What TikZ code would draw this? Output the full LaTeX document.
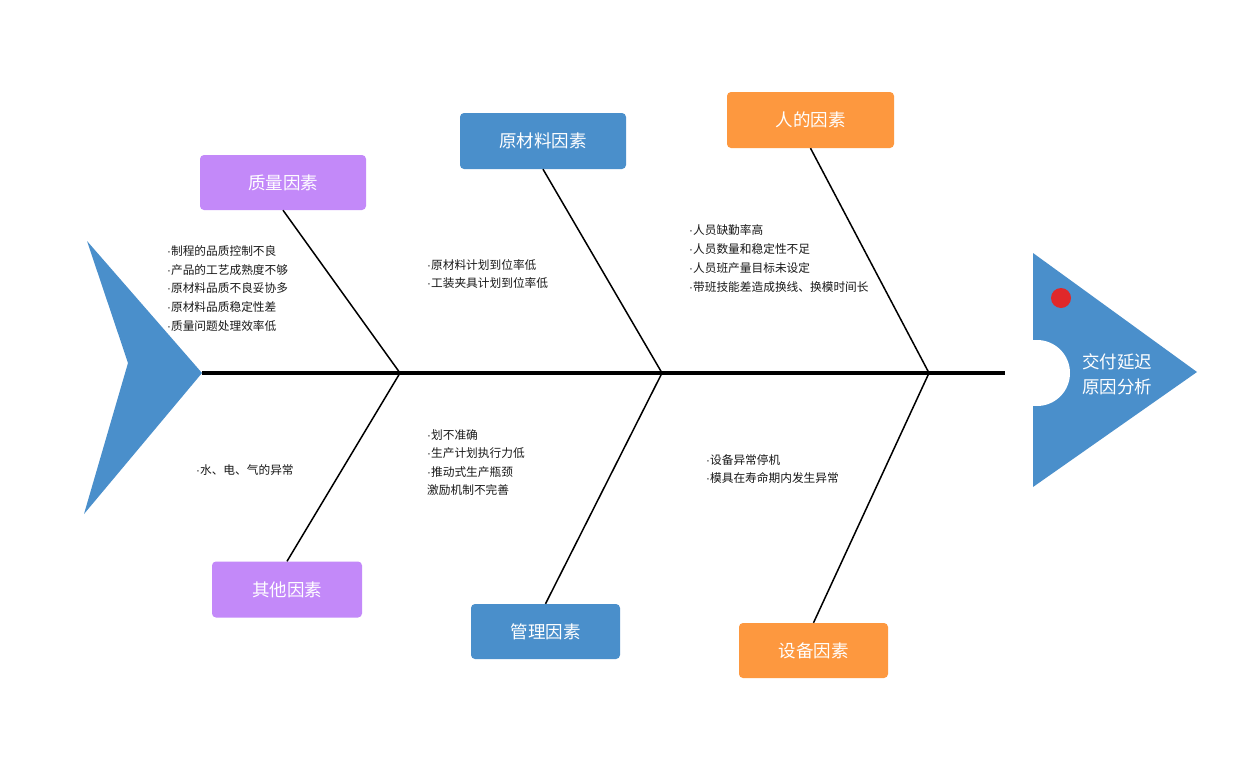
\documentclass[tikz,border=0pt]{standalone}
\usepackage{fontspec}
\newfontfamily\cjk{Noto Sans CJK SC}
\newfontfamily\latn{Liberation Sans}
\newcommand{\bd}{{\latn ·}}
\definecolor{qpurple}{HTML}{C389F9}
\definecolor{mblue}{HTML}{4A8FCB}
\definecolor{porange}{HTML}{FD983F}
\definecolor{reddot}{HTML}{E0282A}
\tikzset{
  catbox/.style={rounded corners=4pt, inner sep=0pt, text=white, font=\cjk\fontsize{17.5}{20}\selectfont},
  bone/.style={line width=1.5pt, black},
  spine/.style={line width=3.2pt, black},
  items/.style={anchor=west, align=left, inner sep=0pt, text=black!90, font=\cjk\fontsize{11.7}{18.8}\selectfont},
}
\begin{document}
\begin{tikzpicture}[x=1pt,y=-1pt]
\useasboundingbox[fill=white] (0,0) rectangle (1251,774);
% tail
\fill[mblue] (87,241) -- (202,373) -- (84,514) -- (128,363) -- cycle;
% head
\fill[mblue] (1033,253) -- (1197,372) -- (1033,487) -- cycle;
\fill[white] (1037,373) circle[radius=33];
\fill[reddot] (1061,298) circle[radius=10];
\node[align=center, text=white, font=\cjk\fontsize{17.5}{25}\selectfont] (head) at (1117,374) {交付延迟\\原因分析};
% spine
\coordinate (s0) at (202,373);
\coordinate (s1) at (400,373);
\coordinate (s2) at (662,373);
\coordinate (s3) at (929,373);
\coordinate (s4) at (1005,373);
\draw[spine] (s0) -- (s4);
% category boxes
\node[catbox, fill=qpurple, minimum width=166, minimum height=55] (q) at (283,182.5) {质量因素};
\node[catbox, fill=mblue, minimum width=166, minimum height=56] (r) at (543,141) {原材料因素};
\node[catbox, fill=porange, minimum width=167, minimum height=56] (p) at (810.5,120) {人的因素};
\node[catbox, fill=qpurple, minimum width=150, minimum height=56] (o) at (287,589.5) {其他因素};
\node[catbox, fill=mblue, minimum width=149, minimum height=55] (m) at (545.5,631.5) {管理因素};
\node[catbox, fill=porange, minimum width=149, minimum height=55] (e) at (813.5,650.5) {设备因素};
% bones
\draw[bone] (q.south) -- (s1);
\draw[bone] (r.south) -- (s2);
\draw[bone] (p.south) -- (s3);
\draw[bone] (o.north) -- (s1);
\draw[bone] (m.north) -- (s2);
\draw[bone] (e.north) -- (s3);
% item texts
\node[items] (t1) at (167,288.5) {\bd 制程的品质控制不良\\\bd 产品的工艺成熟度不够\\\bd 原材料品质不良妥协多\\\bd 原材料品质稳定性差\\\bd 质量问题处理效率低};
\node[items] (t2) at (427,274) {\bd 原材料计划到位率低\\\bd 工装夹具计划到位率低};
\node[items] (t3) at (689,258.5) {\bd 人员缺勤率高\\\bd 人员数量和稳定性不足\\\bd 人员班产量目标未设定\\\bd 带班技能差造成换线、换模时间长};
\node[items] (t4) at (196,470) {\bd 水、电、气的异常};
\node[items, font=\cjk\fontsize{11.7}{18.3}\selectfont] (t5) at (427,462.5) {\bd 划不准确\\\bd 生产计划执行力低\\\bd 推动式生产瓶颈\\激励机制不完善};
\node[items] (t6) at (706,469) {\bd 设备异常停机\\\bd 模具在寿命期内发生异常};
\end{tikzpicture}
\end{document}
